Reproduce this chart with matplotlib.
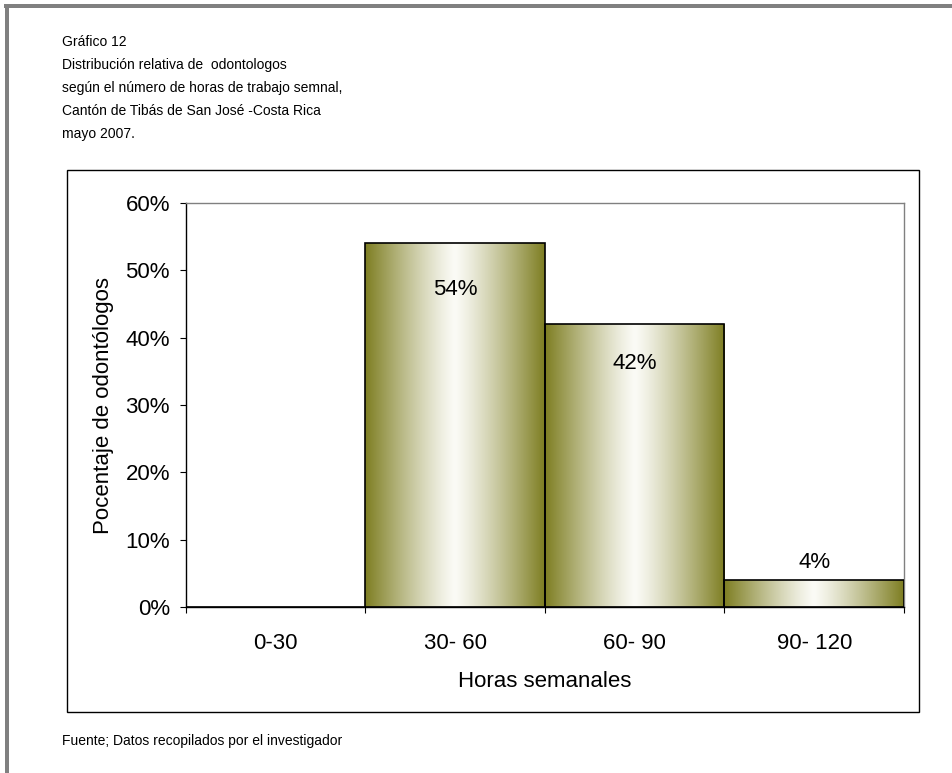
import numpy as np
import matplotlib
matplotlib.use("Agg")
import matplotlib.pyplot as plt
from matplotlib.patches import Rectangle
from matplotlib.colors import to_rgb

plt.rcParams['font.family'] = ['Liberation Sans', 'DejaVu Sans']

categories = ["0-30", "30- 60", "60- 90", "90- 120"]
values = [0, 54, 42, 4]
yticks = [0, 10, 20, 30, 40, 50, 60]
title_lines = [
    "Gráfico 12",
    "Distribución relativa de  odontologos",
    "según el número de horas de trabajo semnal,",
    "Cantón de Tibás de San José -Costa Rica",
    "mayo 2007.",
]

W, H = 953, 773
fig = plt.figure(figsize=(W / 100, H / 100), dpi=100)
fig.patch.set_facecolor("white")

# outer page frame (top and left)
fig.patches.append(Rectangle((4 / W, 1 - 8 / H), 1 - 4 / W, 4 / H, transform=fig.transFigure,
                             facecolor="#808080", edgecolor="none", zorder=-2))
fig.patches.append(Rectangle((5 / W, 0), 4 / W, 1 - 4 / H, transform=fig.transFigure,
                             facecolor="#808080", edgecolor="none", zorder=-2))

# chart box
fig.patches.append(Rectangle((67 / W, 1 - 712 / H), (919 - 67) / W, (712 - 170) / H,
                             transform=fig.transFigure, facecolor="white",
                             edgecolor="black", linewidth=1.0, zorder=-1))

for i, line in enumerate(title_lines):
    fig.text(62 / W, 1 - (42 + i * 23) / H, line, fontsize=10, va="center", ha="left")

fig.text(62 / W, 1 - 741 / H, "Fuente; Datos recopilados por el investigador",
         fontsize=10, va="center", ha="left")

ax = fig.add_axes([186 / W, 1 - 607 / H, (904 - 186) / W, (607 - 203) / H])
ax.set_facecolor("white")

x = np.arange(len(categories))
bars = ax.bar(x + 0.5, values, width=1.0, facecolor="none", edgecolor="black",
              linewidth=1.2, zorder=3)

# horizontal olive -> white -> olive gradient fill
olive = np.array(to_rgb("#7e7e22"))
center = np.array(to_rgb("#fbfbf6"))
s = np.linspace(0, 1, 256)
t = np.abs(s - 0.5) * 2
t = np.clip(t, 0, 1) ** 1.2
grad = center[None, :] * (1 - t[:, None]) + olive[None, :] * t[:, None]
grad = grad[None, :, :]
for b in bars:
    h = b.get_height()
    if h <= 0:
        continue
    x0 = b.get_x()
    ax.imshow(grad, extent=(x0, x0 + b.get_width(), 0, h), aspect="auto",
              interpolation="bilinear", zorder=2)

FS = 16
ax.set_xlim(0, len(categories))
ax.set_ylim(0, 60)
ax.set_yticks(yticks)
ax.set_yticklabels([f"{v}%" for v in yticks], fontsize=FS)
ax.set_xticks(np.arange(len(categories) + 1))
ax.set_xticklabels([])
ax.set_xticks(x + 0.5, minor=True)
ax.set_xticklabels(categories, minor=True, fontsize=FS)
ax.tick_params(axis="x", which="minor", length=0, pad=19)
ax.tick_params(axis="x", which="major", length=4.5, direction="out", width=0.8)
ax.tick_params(axis="y", length=4.5, direction="out", width=0.8, pad=7)

for side in ["top", "right"]:
    ax.spines[side].set_color("#808080")
ax.spines["left"].set_color("black")
ax.spines["bottom"].set_color("black")
for sp in ax.spines.values():
    sp.set_linewidth(1.0)

ax.set_xlabel("Horas semanales", fontsize=FS, labelpad=12)
ax.set_ylabel("Pocentaje de odontólogos", fontsize=FS, labelpad=8)

# value labels
offsets = {54: -33.5, 42: -28, 4: 12.5}
for b, v in zip(bars, values):
    if v <= 0:
        continue
    ax.annotate(f"{v}%", (b.get_x() + b.get_width() / 2, v),
                xytext=(0, offsets.get(v, -30 if v > 10 else 12.5)),
                textcoords="offset points", ha="center", va="center",
                fontsize=FS, zorder=5)

fig.savefig("out.png", dpi=100)
